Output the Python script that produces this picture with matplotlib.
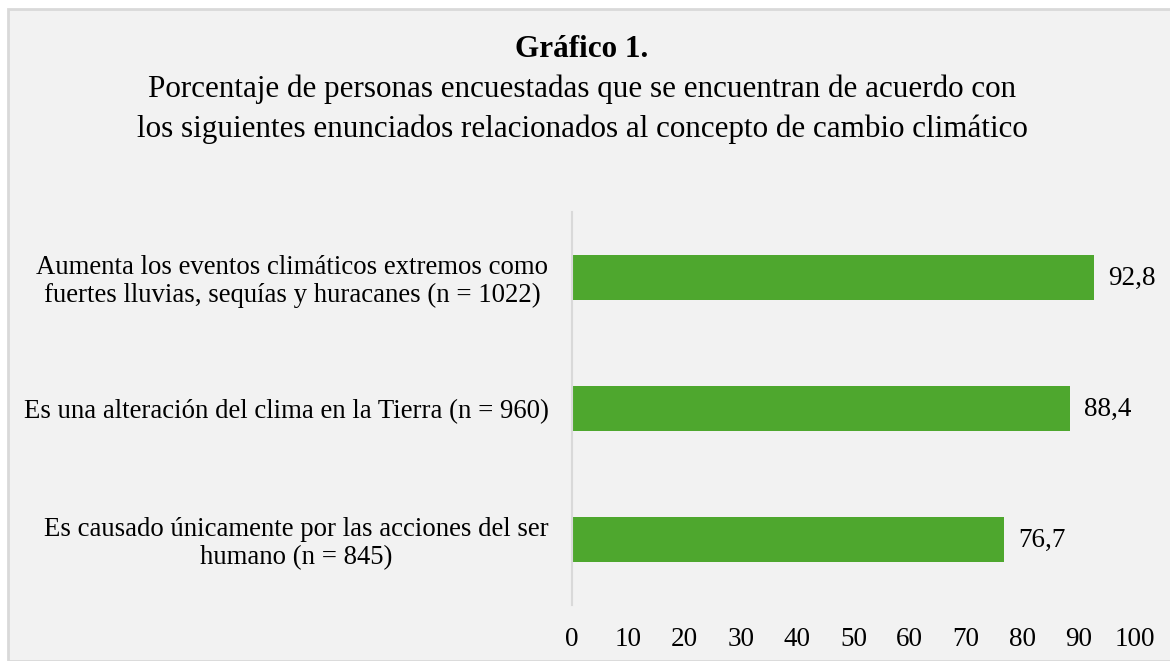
import matplotlib.pyplot as plt
from matplotlib.patches import Rectangle

categorias = [
    "Es causado únicamente por las acciones del ser\nhumano (n = 845)",
    "Es una alteración del clima en la Tierra (n = 960)",
    "Aumenta los eventos climáticos extremos como\nfuertes lluvias, sequías y huracanes (n = 1022)",
]
valores = [76.7, 88.4, 92.8]
etiquetas = ["76,7", "88,4", "92,8"]
ticks = [0, 10, 20, 30, 40, 50, 60, 70, 80, 90, 100]

plt.rcParams['font.family'] = ['Liberation Serif', 'DejaVu Serif']

W, H = 1170, 661
fig = plt.figure(figsize=(W / 100, H / 100), dpi=100, facecolor='white')

# fondo gris del gráfico con borde
fig.patches.append(Rectangle((8 / W, 0), 1.0, 1 - 9 / H, transform=fig.transFigure,
                             facecolor='#f2f2f2', edgecolor='#d9d9d9', linewidth=2, zorder=-5))

ax = fig.add_axes([572 / W, 1 - 605 / H, (1135 - 572) / W, (605 - 212) / H])
ax.set_facecolor('none')
ax.set_zorder(2)

y = range(len(categorias))
ax.barh(y, valores, height=0.35, color='#4ea72e')
for i, (v, t) in enumerate(zip(valores, etiquetas)):
    ax.text(v + 2.5, i - 0.01, t, va='center', ha='left', fontsize=19.5)

ax.set_xlim(0, 100)
ax.set_ylim(-0.5, 2.5)
ax.set_xticks(ticks)
ax.set_yticks(list(y))
ax.set_yticklabels(categorias, fontsize=19.3, linespacing=1.15)
for lab in ax.get_yticklabels():
    lab.set_multialignment('center')
ax.tick_params(axis='x', length=0, labelsize=19.5, pad=16)
ax.tick_params(axis='y', length=0, pad=17)
for s in ['top', 'right', 'bottom']:
    ax.spines[s].set_visible(False)
ax.spines['left'].set_color('#d9d9d9')
ax.spines['left'].set_linewidth(1.5)

fig.text(582 / W, 1 - 57 / H, "Gráfico 1.", ha='center', va='baseline',
         fontsize=22.4, fontweight='bold')
fig.text(582 / W, 1 - 97 / H, "Porcentaje de personas encuestadas que se encuentran de acuerdo con",
         ha='center', va='baseline', fontsize=22.4)
fig.text(582 / W, 1 - 137 / H, "los siguientes enunciados relacionados al concepto de cambio climático",
         ha='center', va='baseline', fontsize=22.4)

fig.savefig('out.png', dpi=100, facecolor='white')
